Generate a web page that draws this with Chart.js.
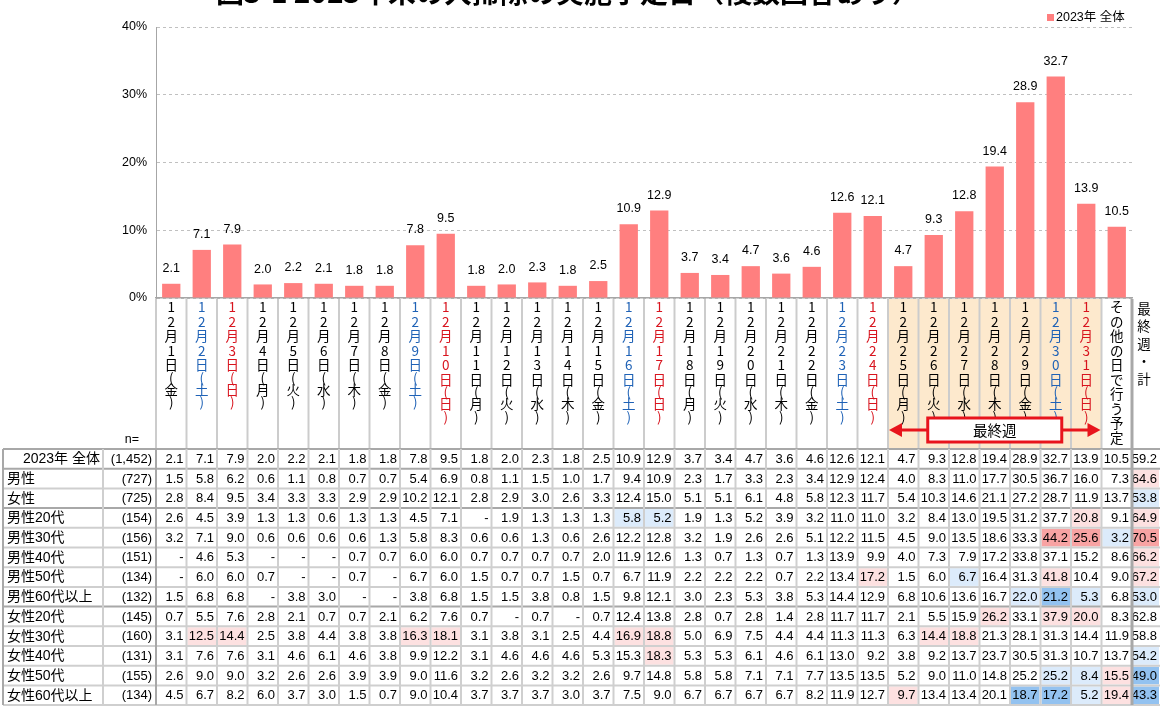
<!DOCTYPE html>
<html>
<head>
<meta charset="utf-8">
<script src="https://cdn.jsdelivr.net/npm/chart.js@4.4.0/dist/chart.umd.min.js"></script>
<style>
  html, body { margin: 0; padding: 0; background: #fff; }
  #wrap { position: relative; width: 1160px; height: 706px; overflow: hidden; }
</style>
</head>
<body>
<div id="wrap"><canvas id="chart" width="1160" height="706"></canvas></div>
<script>
const titleText = "図3-1 2023年末の大掃除の実施予定日（複数回答あり）";
const seriesName = "2023年 全体";

const categories = [
  "12月1日(金)", "12月2日(土)", "12月3日(日)", "12月4日(月)", "12月5日(火)", "12月6日(水)", "12月7日(木)",
  "12月8日(金)", "12月9日(土)", "12月10日(日)", "12月11日(月)", "12月12日(火)", "12月13日(水)", "12月14日(木)",
  "12月15日(金)", "12月16日(土)", "12月17日(日)", "12月18日(月)", "12月19日(火)", "12月20日(水)", "12月21日(木)",
  "12月22日(金)", "12月23日(土)", "12月24日(日)", "12月25日(月)", "12月26日(火)", "12月27日(水)", "12月28日(木)",
  "12月29日(金)", "12月30日(土)", "12月31日(日)", "その他の日で行う予定"
];
const lastWeekFrom = 24;
const lastWeekTo = 30;
const lastWeekLabel = "最終週";
const sumColumnLabel = "最終週・計";

const yTicks = [0, 10, 20, 30, 40];

// bars (2023年 全体)
const overall = [2.1, 7.1, 7.9, 2.0, 2.2, 2.1, 1.8, 1.8, 7.8, 9.5, 1.8, 2.0, 2.3, 1.8, 2.5, 10.9, 12.9, 3.7, 3.4, 4.7, 3.6, 4.6, 12.6, 12.1, 4.7, 9.3, 12.8, 19.4, 28.9, 32.7, 13.9, 10.5];
const overallLastWeek = 59.2;

// table rows (null = "-"), last value = 最終週・計
const rowLabels = ["2023年 全体", "男性", "女性", "男性20代", "男性30代", "男性40代", "男性50代", "男性60代以上", "女性20代", "女性30代", "女性40代", "女性50代", "女性60代以上"];
const rowN = [1452, 727, 725, 154, 156, 151, 134, 132, 145, 160, 131, 155, 134];
const male = [1.5, 5.8, 6.2, 0.6, 1.1, 0.8, 0.7, 0.7, 5.4, 6.9, 0.8, 1.1, 1.5, 1.0, 1.7, 9.4, 10.9, 2.3, 1.7, 3.3, 2.3, 3.4, 12.9, 12.4, 4.0, 8.3, 11.0, 17.7, 30.5, 36.7, 16.0, 7.3, 64.6];
const female = [2.8, 8.4, 9.5, 3.4, 3.3, 3.3, 2.9, 2.9, 10.2, 12.1, 2.8, 2.9, 3.0, 2.6, 3.3, 12.4, 15.0, 5.1, 5.1, 6.1, 4.8, 5.8, 12.3, 11.7, 5.4, 10.3, 14.6, 21.1, 27.2, 28.7, 11.9, 13.7, 53.8];
const male20 = [2.6, 4.5, 3.9, 1.3, 1.3, 0.6, 1.3, 1.3, 4.5, 7.1, null, 1.9, 1.3, 1.3, 1.3, 5.8, 5.2, 1.9, 1.3, 5.2, 3.9, 3.2, 11.0, 11.0, 3.2, 8.4, 13.0, 19.5, 31.2, 37.7, 20.8, 9.1, 64.9];
const male30 = [3.2, 7.1, 9.0, 0.6, 0.6, 0.6, 0.6, 1.3, 5.8, 8.3, 0.6, 0.6, 1.3, 0.6, 2.6, 12.2, 12.8, 3.2, 1.9, 2.6, 2.6, 5.1, 12.2, 11.5, 4.5, 9.0, 13.5, 18.6, 33.3, 44.2, 25.6, 3.2, 70.5];
const male40 = [null, 4.6, 5.3, null, null, null, 0.7, 0.7, 6.0, 6.0, 0.7, 0.7, 0.7, 0.7, 2.0, 11.9, 12.6, 1.3, 0.7, 1.3, 0.7, 1.3, 13.9, 9.9, 4.0, 7.3, 7.9, 17.2, 33.8, 37.1, 15.2, 8.6, 66.2];
const male50 = [null, 6.0, 6.0, 0.7, null, null, 0.7, null, 6.7, 6.0, 1.5, 0.7, 0.7, 1.5, 0.7, 6.7, 11.9, 2.2, 2.2, 2.2, 0.7, 2.2, 13.4, 17.2, 1.5, 6.0, 6.7, 16.4, 31.3, 41.8, 10.4, 9.0, 67.2];
const male60 = [1.5, 6.8, 6.8, null, 3.8, 3.0, null, null, 3.8, 6.8, 1.5, 1.5, 3.8, 0.8, 1.5, 9.8, 12.1, 3.0, 2.3, 5.3, 3.8, 5.3, 14.4, 12.9, 6.8, 10.6, 13.6, 16.7, 22.0, 21.2, 5.3, 6.8, 53.0];
const female20 = [0.7, 5.5, 7.6, 2.8, 2.1, 0.7, 0.7, 2.1, 6.2, 7.6, 0.7, null, 0.7, null, 0.7, 12.4, 13.8, 2.8, 0.7, 2.8, 1.4, 2.8, 11.7, 11.7, 2.1, 5.5, 15.9, 26.2, 33.1, 37.9, 20.0, 8.3, 62.8];
const female30 = [3.1, 12.5, 14.4, 2.5, 3.8, 4.4, 3.8, 3.8, 16.3, 18.1, 3.1, 3.8, 3.1, 2.5, 4.4, 16.9, 18.8, 5.0, 6.9, 7.5, 4.4, 4.4, 11.3, 11.3, 6.3, 14.4, 18.8, 21.3, 28.1, 31.3, 14.4, 11.9, 58.8];
const female40 = [3.1, 7.6, 7.6, 3.1, 4.6, 6.1, 4.6, 3.8, 9.9, 12.2, 3.1, 4.6, 4.6, 4.6, 5.3, 15.3, 18.3, 5.3, 5.3, 6.1, 4.6, 6.1, 13.0, 9.2, 3.8, 9.2, 13.7, 23.7, 30.5, 31.3, 10.7, 13.7, 54.2];
const female50 = [2.6, 9.0, 9.0, 3.2, 2.6, 2.6, 3.9, 3.9, 9.0, 11.6, 3.2, 2.6, 3.2, 3.2, 2.6, 9.7, 14.8, 5.8, 5.8, 7.1, 7.1, 7.7, 13.5, 13.5, 5.2, 9.0, 11.0, 14.8, 25.2, 25.2, 8.4, 15.5, 49.0];
const female60 = [4.5, 6.7, 8.2, 6.0, 3.7, 3.0, 1.5, 0.7, 9.0, 10.4, 3.7, 3.7, 3.7, 3.0, 3.7, 7.5, 9.0, 6.7, 6.7, 6.7, 6.7, 8.2, 11.9, 12.7, 9.7, 13.4, 13.4, 20.1, 18.7, 17.2, 5.2, 19.4, 43.3];

const rows = [overall.concat([overallLastWeek]), male, female, male20, male30, male40, male50, male60, female20, female30, female40, female50, female60];

const barColor = "#ff7f7f";
const FONT = '"Liberation Sans", "Noto Sans CJK JP", sans-serif';
const JP = '"Noto Sans CJK JP", sans-serif';

// cell colour: difference to the total row (points), using the counts behind the percentages
function cellFill(v, n, t) {
  if (v == null || t == null) return null;
  const p = Math.round(v * n / 100) / n * 100;
  const pt = Math.round(t * rowN[0] / 100) / rowN[0] * 100;
  const d = p - pt;
  if (d >= 10) return "#f8a3a3";
  if (d >= 5) return "#fde1e1";
  if (d <= -10) return "#93c2f0";
  if (d <= -5) return "#dcebfb";
  return null;
}

const tablePlugin = {
  id: "tablePlugin",
  afterDatasetsDraw(chart) {
    const ctx = chart.ctx;
    const meta = chart.getDatasetMeta(0);
    ctx.save();
    ctx.font = "12.5px " + FONT;
    ctx.fillStyle = "#000";
    ctx.textAlign = "center";
    ctx.textBaseline = "bottom";
    meta.data.forEach((bar, i) => {
      ctx.fillText(overall[i].toFixed(1), bar.x, bar.y - 9);
    });
    ctx.restore();
  },
  afterDraw(chart) {
    const ctx = chart.ctx;
    const xs = chart.scales.x;
    const area = chart.chartArea;
    const colW = area.width / categories.length;
    const colLeft = (i) => (i < categories.length ? xs.getPixelForValue(i) - colW / 2 : area.right + (i - categories.length) * colW);
    const W = chart.width;
    const labTop = area.bottom + 1;
    const tableTop = 449;
    const rowH = 19.7;
    const tableLeft = 3;
    const nLeft = 103;

    ctx.save();

    // title (cut at the top of the picture)
    ctx.font = "bold 28px " + JP;
    ctx.fillStyle = "#000";
    ctx.textAlign = "center";
    ctx.textBaseline = "alphabetic";
    ctx.fillText(titleText, 568, 3);

    // legend
    ctx.fillStyle = chart.data.datasets[0].backgroundColor;
    ctx.fillRect(1047, 14, 7, 7);
    ctx.fillStyle = "#000";
    ctx.font = "12.5px " + FONT;
    ctx.textAlign = "left";
    ctx.textBaseline = "middle";
    ctx.fillText(chart.data.datasets[0].label, 1056, 17.5);

    // last week background
    ctx.fillStyle = "#fde9cd";
    ctx.fillRect(colLeft(lastWeekFrom), labTop, colLeft(lastWeekTo + 1) - colLeft(lastWeekFrom), tableTop - labTop);

    // column lines in label area
    for (let k = 0; k <= categories.length; k++) {
      const x = colLeft(k);
      ctx.strokeStyle = k === categories.length ? "#a8a8a8" : "#cccccc";
      ctx.lineWidth = k === categories.length ? 3 : 2;
      ctx.beginPath();
      ctx.moveTo(x, labTop);
      ctx.lineTo(x, tableTop);
      ctx.stroke();
    }

    // vertical category labels
    ctx.textAlign = "center";
    ctx.textBaseline = "middle";
    categories.forEach((c, i) => {
      const cx = colLeft(i) + colW / 2;
      ctx.fillStyle = c.includes("(土)") ? "#1f62b6" : c.includes("(日)") ? "#d8141e" : "#000";
      ctx.font = "13.5px " + JP;
      let y = 300;
      for (const ch of c) {
        const adv = ch === "(" || ch === ")" ? 10 : 14.5;
        ctx.fillText(ch, cx, y + adv / 2);
        y += adv;
      }
    });
    {
      const cx = colLeft(categories.length) + (W - colLeft(categories.length)) / 2 - 2;
      ctx.fillStyle = "#000";
      let y = 300;
      for (const ch of sumColumnLabel) {
        ctx.fillText(ch, cx, y + 8.75);
        y += 17.5;
      }
    }

    // last week arrow and box
    {
      const l = colLeft(lastWeekFrom) + 1;
      const r = colLeft(lastWeekTo + 1) - 1;
      const ay = 430;
      const red = "#e8141c";
      ctx.strokeStyle = red;
      ctx.fillStyle = red;
      ctx.lineWidth = 3;
      ctx.beginPath();
      ctx.moveTo(l + 10, ay);
      ctx.lineTo(r - 10, ay);
      ctx.stroke();
      ctx.beginPath();
      ctx.moveTo(l, ay); ctx.lineTo(l + 13, ay - 7); ctx.lineTo(l + 13, ay + 7); ctx.closePath();
      ctx.fill();
      ctx.beginPath();
      ctx.moveTo(r, ay); ctx.lineTo(r - 13, ay - 7); ctx.lineTo(r - 13, ay + 7); ctx.closePath();
      ctx.fill();
      const mid = (l + r) / 2;
      ctx.fillStyle = "#fff";
      ctx.fillRect(mid - 67, ay - 12, 134, 24);
      ctx.strokeRect(mid - 67, ay - 12, 134, 24);
      ctx.fillStyle = "#000";
      ctx.font = "14.5px " + JP;
      ctx.fillText(lastWeekLabel, mid, ay + 0.5);
    }

    // n=
    ctx.font = "12.5px " + FONT;
    ctx.textAlign = "right";
    ctx.fillStyle = "#000";
    ctx.fillText("n=", 139, 440);

    // table cells
    const nCols = categories.length + 1;
    rows.forEach((vals, r) => {
      const top = tableTop + r * rowH;
      const cy = top + rowH / 2 + 0.5;
      for (let k = 0; k < nCols; k++) {
        const x0 = colLeft(k);
        const x1 = k + 1 < nCols ? colLeft(k + 1) : W;
        const fill = r > 0 ? cellFill(vals[k], rowN[r], rows[0][k]) : null;
        if (fill) {
          ctx.fillStyle = fill;
          ctx.fillRect(x0 + 1, top + 1, x1 - x0 - 2, rowH - 2);
        }
        ctx.fillStyle = "#000";
        ctx.font = "13px " + FONT;
        ctx.textAlign = "right";
        ctx.fillText(vals[k] == null ? "-" : vals[k].toFixed(1), x1 - 3, cy);
      }
      ctx.font = '13px "Liberation Sans", sans-serif';
      const lbl = rowLabels[r];
      if (r === 0) {
        ctx.textAlign = "right";
      } else {
        ctx.textAlign = "left";
      }
      ctx.font = "14px " + FONT;
      ctx.fillText(lbl, r === 0 ? nLeft - 3 : tableLeft + 4, cy);
      ctx.font = "13px " + FONT;
      ctx.textAlign = "right";
      ctx.fillText("(" + rowN[r].toLocaleString("en-US") + ")", area.left - 4, cy);
    });

    // table lines
    const bottom = tableTop + rows.length * rowH;
    for (let r = 0; r <= rows.length; r++) {
      const y = tableTop + r * rowH;
      const strong = r === 0 || r === 1 || r === 3 || r === 8;
      ctx.strokeStyle = strong ? "#a8a8a8" : "#cfcfcf";
      ctx.lineWidth = 2;
      ctx.beginPath();
      ctx.moveTo(tableLeft, y);
      ctx.lineTo(W, y);
      ctx.stroke();
    }
    const vlines = [tableLeft, nLeft, area.left];
    for (let k = 1; k <= categories.length; k++) vlines.push(colLeft(k));
    vlines.forEach((x, idx) => {
      const strong = idx === 0 || idx === 2 || idx === vlines.length - 1;
      ctx.strokeStyle = strong ? "#a8a8a8" : "#cfcfcf";
      ctx.lineWidth = idx === vlines.length - 1 ? 3 : 2;
      ctx.beginPath();
      ctx.moveTo(x, tableTop);
      ctx.lineTo(x, bottom);
      ctx.stroke();
    });

    ctx.restore();
  }
};

new Chart(document.getElementById("chart"), {
  type: "bar",
  data: {
    labels: categories,
    datasets: [
      {
        label: seriesName,
        data: overall,
        backgroundColor: barColor,
        barPercentage: 0.6,
        categoryPercentage: 1.0,
      },
    ],
  },
  options: {
    responsive: false,
    animation: false,
    layout: { padding: { left: 116, right: 28, top: 27, bottom: 408 } },
    plugins: {
      legend: { display: false },
      tooltip: { enabled: false },
    },
    scales: {
      x: {
        ticks: { display: false },
        grid: { display: false, drawTicks: false },
        border: { color: "#a6a6a6", width: 1.5 },
        afterFit(s) { s.height = 0; },
      },
      y: {
        min: yTicks[0],
        max: yTicks[yTicks.length - 1],
        afterBuildTicks(s) { s.ticks = yTicks.map((v) => ({ value: v })); },
        ticks: {
          callback: (v) => v + "%",
          color: "#000",
          font: { size: 12.5, family: FONT },
          padding: 9,
        },
        grid: { color: "#c0c0c0", drawTicks: false },
        border: { color: "#a6a6a6", width: 1, dash: [3, 3] },
        afterFit(s) { s.width = 40; },
      },
    },
  },
  plugins: [tablePlugin],
});
</script>
</body>
</html>
